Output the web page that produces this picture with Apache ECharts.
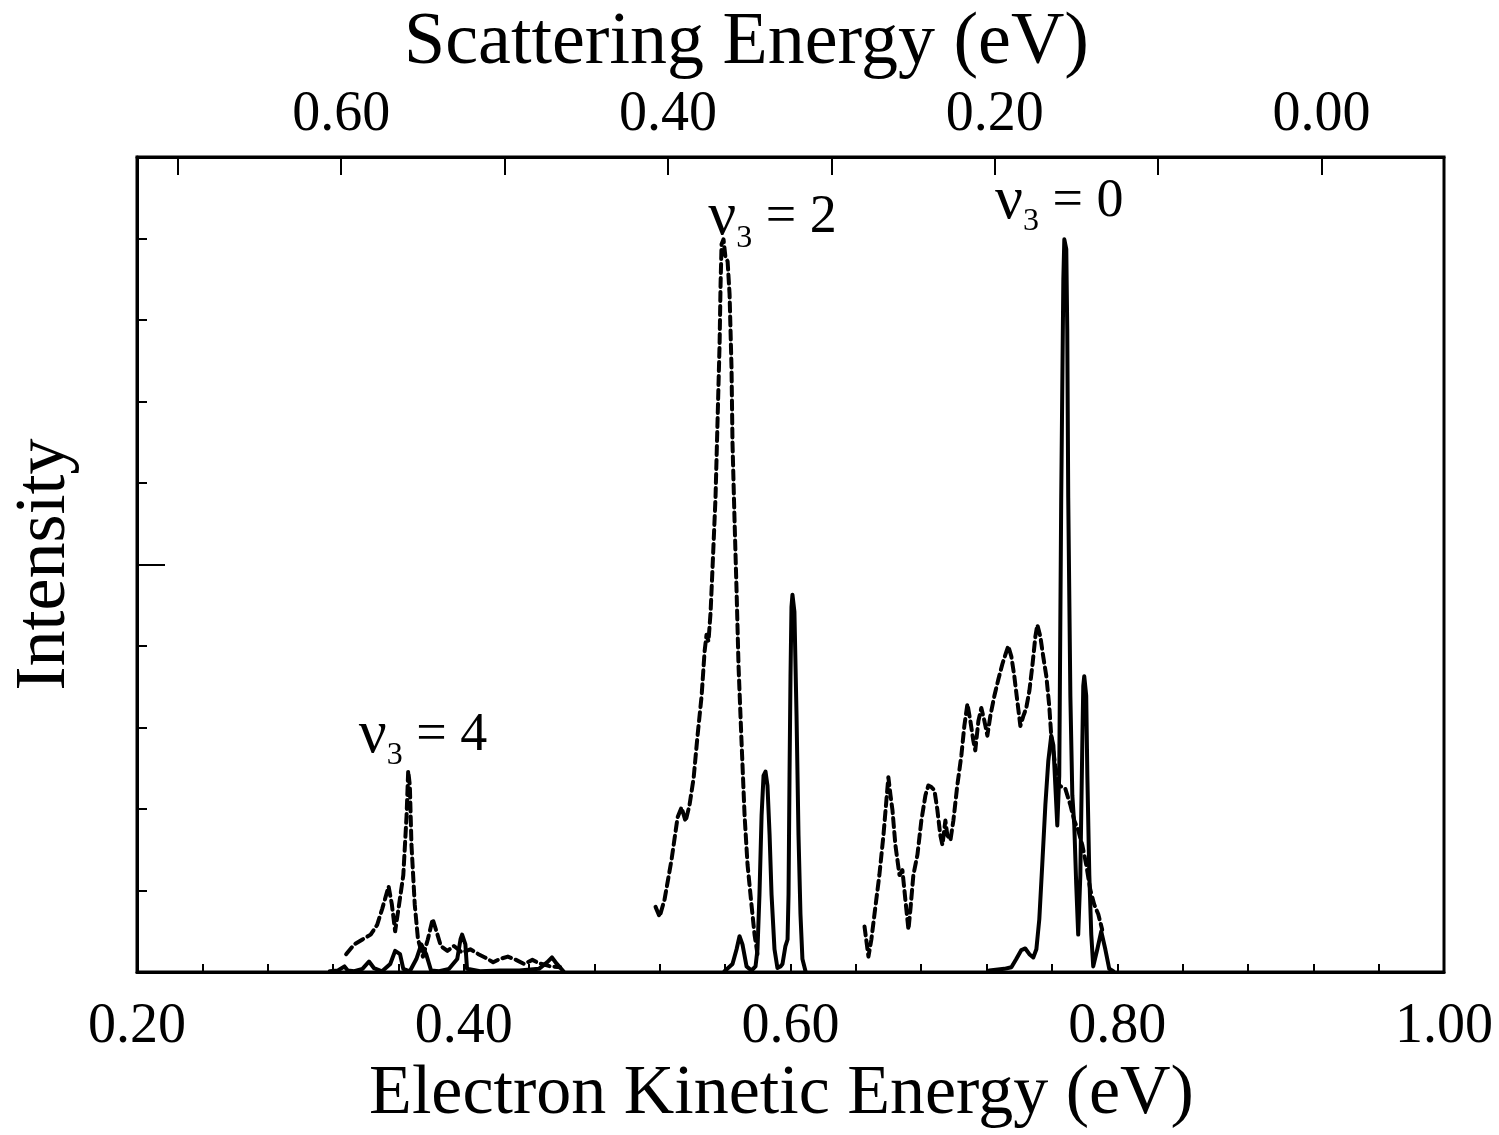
<!DOCTYPE html>
<html>
<head>
<meta charset="utf-8">
<script src="https://cdn.jsdelivr.net/npm/echarts@6/dist/echarts.min.js"></script>
<style>
html,body{margin:0;padding:0;background:#fff;}
#chart{width:1499px;height:1135px;}
</style>
</head>
<body>
<div id="chart"></div>
<script>
// ---- axis definitions ----
const xMin = 0.20, xMax = 1.00;
const xTickValues = [0.20,0.24,0.28,0.32,0.36,0.40,0.44,0.48,0.52,0.56,0.60,0.64,0.68,0.72,0.76,0.80,0.84,0.88,0.92,0.96,1.00];
const xLabelValues = [0.20, 0.40, 0.60, 0.80, 1.00];
const scatterOffset = 0.925; // scattering energy = offset - electron kinetic energy
const topTickValues = [0.0, 0.1, 0.2, 0.3, 0.4, 0.5, 0.6, 0.7];
const topLabelValues = [0.00, 0.20, 0.40, 0.60];
const yTickValues = [0.1, 0.2, 0.3, 0.4, 0.5, 0.6, 0.7, 0.8, 0.9];
const yLongTick = [0.5];

// ---- dashed curve (v3 = 4, 2, 0 regions) ----
const dashedV4 = [[0.328,0.022],[0.333,0.034],[0.338,0.040],[0.343,0.046],[0.347,0.058],[0.350,0.077],[0.354,0.105],[0.356,0.083],[0.358,0.050],[0.360,0.077],[0.363,0.119],[0.365,0.192],[0.366,0.247],[0.367,0.229],[0.368,0.156],[0.370,0.083],[0.372,0.040],[0.375,0.019],[0.378,0.040],[0.381,0.065],[0.383,0.052],[0.386,0.032],[0.390,0.026],[0.394,0.032],[0.399,0.024],[0.404,0.028],[0.409,0.022],[0.413,0.018],[0.418,0.012],[0.422,0.016],[0.427,0.019],[0.432,0.015],[0.437,0.010],[0.442,0.015],[0.446,0.011],[0.453,0.007],[0.459,0.006]];
const dashedV2 = [[0.5174,0.080],[0.5199,0.068],[0.5229,0.089],[0.5272,0.138],[0.5309,0.190],[0.5333,0.202],[0.5358,0.185],[0.5382,0.205],[0.5407,0.238],[0.5431,0.290],[0.5456,0.339],[0.5474,0.393],[0.5486,0.414],[0.5498,0.406],[0.5511,0.442],[0.5523,0.497],[0.5541,0.582],[0.5554,0.680],[0.5566,0.771],[0.5572,0.844],[0.5578,0.893],[0.5590,0.899],[0.5602,0.877],[0.5615,0.872],[0.5627,0.832],[0.5639,0.741],[0.5645,0.649],[0.5657,0.558],[0.5670,0.467],[0.5682,0.375],[0.5700,0.284],[0.5719,0.192],[0.5737,0.132],[0.5761,0.083],[0.5780,0.046],[0.5798,0.022]];
const dashedV0 = [[0.6453,0.056],[0.6477,0.019],[0.6495,0.040],[0.6514,0.071],[0.6544,0.119],[0.6569,0.168],[0.6587,0.211],[0.6599,0.239],[0.6612,0.217],[0.6624,0.199],[0.6642,0.156],[0.6667,0.119],[0.6685,0.125],[0.6703,0.089],[0.6722,0.052],[0.6734,0.077],[0.6752,0.119],[0.6777,0.144],[0.6801,0.186],[0.6826,0.217],[0.6844,0.229],[0.6862,0.227],[0.6881,0.223],[0.6899,0.199],[0.6917,0.168],[0.6930,0.156],[0.6948,0.186],[0.6960,0.168],[0.6979,0.162],[0.6997,0.186],[0.7021,0.229],[0.7046,0.266],[0.7064,0.302],[0.7083,0.329],[0.7101,0.308],[0.7119,0.284],[0.7131,0.272],[0.7150,0.308],[0.7168,0.324],[0.7187,0.308],[0.7205,0.290],[0.7223,0.314],[0.7248,0.339],[0.7272,0.359],[0.7297,0.378],[0.7321,0.393],[0.7333,0.400],[0.7352,0.387],[0.7370,0.363],[0.7388,0.333],[0.7407,0.302],[0.7425,0.314],[0.7443,0.324],[0.7462,0.345],[0.7480,0.375],[0.7499,0.412],[0.7511,0.426],[0.7529,0.412],[0.7547,0.387],[0.7566,0.363],[0.7584,0.326],[0.7596,0.290],[0.7621,0.253],[0.7645,0.229],[0.7682,0.225],[0.7713,0.205],[0.7737,0.186],[0.7761,0.174],[0.7786,0.156],[0.7810,0.132],[0.7835,0.101],[0.7859,0.083],[0.7884,0.071],[0.7908,0.052]];

// ---- solid curve ----
const solidV4 = [[0.318,0.001],[0.323,0.002],[0.327,0.007],[0.329,0.002],[0.333,0.001],[0.338,0.004],[0.342,0.013],[0.345,0.005],[0.350,0.001],[0.355,0.010],[0.358,0.026],[0.361,0.022],[0.363,0.004],[0.367,0.001],[0.371,0.016],[0.374,0.034],[0.377,0.022],[0.380,0.002],[0.385,0.001],[0.391,0.004],[0.396,0.016],[0.398,0.040],[0.399,0.046],[0.401,0.034],[0.402,0.004],[0.410,0.001],[0.422,0.002],[0.434,0.002],[0.446,0.004],[0.451,0.012],[0.454,0.018],[0.457,0.010],[0.461,0.001]];
const solidV2 = [[0.5596,0.001],[0.5645,0.010],[0.5670,0.028],[0.5688,0.044],[0.5706,0.034],[0.5731,0.007],[0.5761,0.002],[0.5786,0.007],[0.5798,0.028],[0.5810,0.095],[0.5823,0.192],[0.5835,0.241],[0.5847,0.246],[0.5859,0.229],[0.5872,0.168],[0.5884,0.095],[0.5902,0.028],[0.5920,0.005],[0.5939,0.007],[0.5951,0.010],[0.5969,0.032],[0.5982,0.040],[0.5988,0.095],[0.5994,0.241],[0.6000,0.363],[0.6006,0.448],[0.6012,0.463],[0.6024,0.442],[0.6037,0.314],[0.6049,0.168],[0.6061,0.071],[0.6073,0.016],[0.6092,0.001]];
const solidV0 = [[0.7217,0.002],[0.7309,0.004],[0.7352,0.006],[0.7382,0.016],[0.7413,0.027],[0.7437,0.029],[0.7462,0.022],[0.7486,0.018],[0.7505,0.028],[0.7523,0.065],[0.7541,0.132],[0.7560,0.205],[0.7578,0.259],[0.7596,0.290],[0.7609,0.278],[0.7621,0.229],[0.7633,0.180],[0.7645,0.241],[0.7657,0.582],[0.7670,0.850],[0.7676,0.899],[0.7688,0.887],[0.7694,0.789],[0.7700,0.582],[0.7713,0.339],[0.7725,0.217],[0.7737,0.180],[0.7749,0.107],[0.7761,0.046],[0.7774,0.119],[0.7786,0.278],[0.7792,0.351],[0.7798,0.363],[0.7810,0.339],[0.7817,0.241],[0.7829,0.119],[0.7841,0.046],[0.7853,0.007],[0.7878,0.028],[0.7902,0.050],[0.7927,0.028],[0.7951,0.004],[0.7976,0.001]];

// ---- annotations ----
const peakLabels = [
  {name: '4', value: [0.375, 0.290]},
  {name: '2', value: [0.589, 0.925]},
  {name: '0', value: [0.7645, 0.945]}
];

const FONT = '"Liberation Serif", "DejaVu Serif", serif';
const chart = echarts.init(document.getElementById('chart'), null, {renderer: 'canvas'});

function lineSeries(data, dashed) {
  return {
    type: 'line', xAxisIndex: 0, yAxisIndex: 0, data: data,
    showSymbol: false, symbol: 'none', silent: true,
    lineStyle: {color: '#000', width: 4, type: dashed ? [9, 5] : 'solid', cap: 'round', join: 'round'},
    z: dashed ? 3 : 4
  };
}

const option = {
  animation: false,
  backgroundColor: '#fff',
  grid: {left: 137, right: 55, top: 157, bottom: 157, show: true, borderColor: '#000', borderWidth: 3, backgroundColor: 'transparent'},
  xAxis: [
    {
      type: 'value', position: 'bottom', min: xMin, max: xMax,
      name: 'Electron Kinetic Energy (eV)', nameLocation: 'middle', nameGap: 82,
      nameTextStyle: {fontFamily: FONT, fontSize: 70, color: '#000', padding: [0, 18, 0, 0]},
      axisLine: {show: true, onZero: false, lineStyle: {color: '#000', width: 3}},
      axisTick: {show: true, inside: true, length: 8, customValues: xTickValues, lineStyle: {color: '#000', width: 2}},
      axisLabel: {show: true, customValues: xLabelValues, margin: 27, fontFamily: FONT, fontSize: 56, color: '#000',
        formatter: v => v.toFixed(2)},
      splitLine: {show: false}
    },
    {
      type: 'value', position: 'top', inverse: true,
      min: scatterOffset - xMax, max: scatterOffset - xMin,
      name: 'Scattering Energy (eV)', nameLocation: 'middle', nameGap: 76,
      nameTextStyle: {fontFamily: FONT, fontSize: 74, color: '#000', padding: [0, 88, 0, 0]},
      axisLine: {show: true, onZero: false, lineStyle: {color: '#000', width: 3}},
      axisTick: {show: true, inside: true, length: 18, customValues: topTickValues, lineStyle: {color: '#000', width: 2}},
      axisLabel: {show: true, customValues: topLabelValues, margin: 14, fontFamily: FONT, fontSize: 56, color: '#000',
        formatter: v => Math.abs(v).toFixed(2)},
      splitLine: {show: false}
    }
  ],
  yAxis: [
    {
      type: 'value', position: 'left', min: 0, max: 1,
      name: 'Intensity', nameLocation: 'middle', nameGap: 56,
      nameTextStyle: {fontFamily: FONT, fontSize: 72, color: '#000'},
      axisLine: {show: true, onZero: false, lineStyle: {color: '#000', width: 3}},
      axisTick: {show: true, inside: true, length: 10, customValues: yTickValues, lineStyle: {color: '#000', width: 2}},
      axisLabel: {show: false},
      splitLine: {show: false}
    },
    {
      type: 'value', position: 'left', min: 0, max: 1,
      axisLine: {show: false, onZero: false},
      axisTick: {show: true, inside: true, length: 28, customValues: yLongTick, lineStyle: {color: '#000', width: 2}},
      axisLabel: {show: false},
      splitLine: {show: false}
    }
  ],
  series: [
    lineSeries(dashedV4, true),
    lineSeries(dashedV2, true),
    lineSeries(dashedV0, true),
    lineSeries(solidV4, false),
    lineSeries(solidV2, false),
    lineSeries(solidV0, false),
    {
      type: 'scatter', xAxisIndex: 0, yAxisIndex: 0, symbolSize: 0, silent: true,
      itemStyle: {opacity: 1},
      data: peakLabels,
      label: {
        show: true, position: 'inside', color: '#000', opacity: 1, fontFamily: FONT,
        formatter: p => '{nu|ν}{sub|3}{eq| = ' + p.name + '}',
        rich: {
          nu: {fontFamily: FONT, fontSize: 62, lineHeight: 72, verticalAlign: 'middle', color: '#000'},
          sub: {fontFamily: FONT, fontSize: 32, lineHeight: 30, verticalAlign: 'bottom', color: '#000'},
          eq: {fontFamily: FONT, fontSize: 54, lineHeight: 72, verticalAlign: 'middle', color: '#000'}
        }
      }
    }
  ]
};
chart.setOption(option);
</script>
</body>
</html>
